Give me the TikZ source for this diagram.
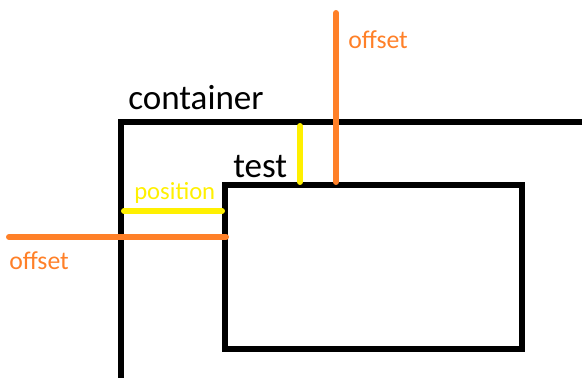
\documentclass[tikz,border=0pt]{standalone}
\usepackage{fontspec}
\setmainfont{Carlito}
\definecolor{offsetorange}{RGB}{255,128,40}
\definecolor{posyellow}{RGB}{255,240,0}
\begin{document}
\begin{tikzpicture}[x=0.75pt,y=-0.75pt,line join=miter,
		box/.style={line width=4.5pt,draw=black},
		offsetline/.style={line width=4.5pt,draw=offsetorange,line cap=round},
		posline/.style={line width=4.5pt,draw=posyellow,line cap=round},
		offsettext/.style={text=offsetorange,font=\fontsize{19.3}{21}\selectfont,inner sep=0pt},
		boxtext/.style={text=black,font=\fontsize{26.3}{29}\selectfont,inner sep=0pt}]
		\clip (0,0) rectangle (582,378);
		% container and test boxes
		\coordinate (CB) at (121,400);
		\coordinate (CR) at (600,122);
		\coordinate (T1) at (225,185);
		\coordinate (T2) at (522,348.5);
		\draw[box] (CB) |- (CR);
		\draw[box] (T1) rectangle (T2);
		\node[boxtext,anchor=base west] (container) at (128,109) {container};
		\node[boxtext,anchor=base west] (test) at (233,177) {test};
		% offsets
		\coordinate (OV1) at (336,13);
		\coordinate (OV2) at (336,182);
		\coordinate (OH1) at (9,237);
		\coordinate (OH2) at (226,237);
		\draw[offsetline] (OV1)--(OV2);
		\draw[offsetline] (OH1)--(OH2);
		\node[offsettext,anchor=base west] (offtop) at (348,49) {offset};
		\node[offsettext,anchor=base west] (offleft) at (9,269) {offset};
		% position
		\coordinate (PV1) at (300,126);
		\coordinate (PV2) at (300,182);
		\coordinate (PH1) at (124,211);
		\coordinate (PH2) at (222,211);
		\draw[posline] (PV1)--(PV2);
		\draw[posline] (PH1)--(PH2);
		\node[offsettext,text=posyellow,font=\fontsize{18.5}{20}\selectfont,anchor=base west] (position) at (134,199) {position};
\end{tikzpicture}
\end{document}
